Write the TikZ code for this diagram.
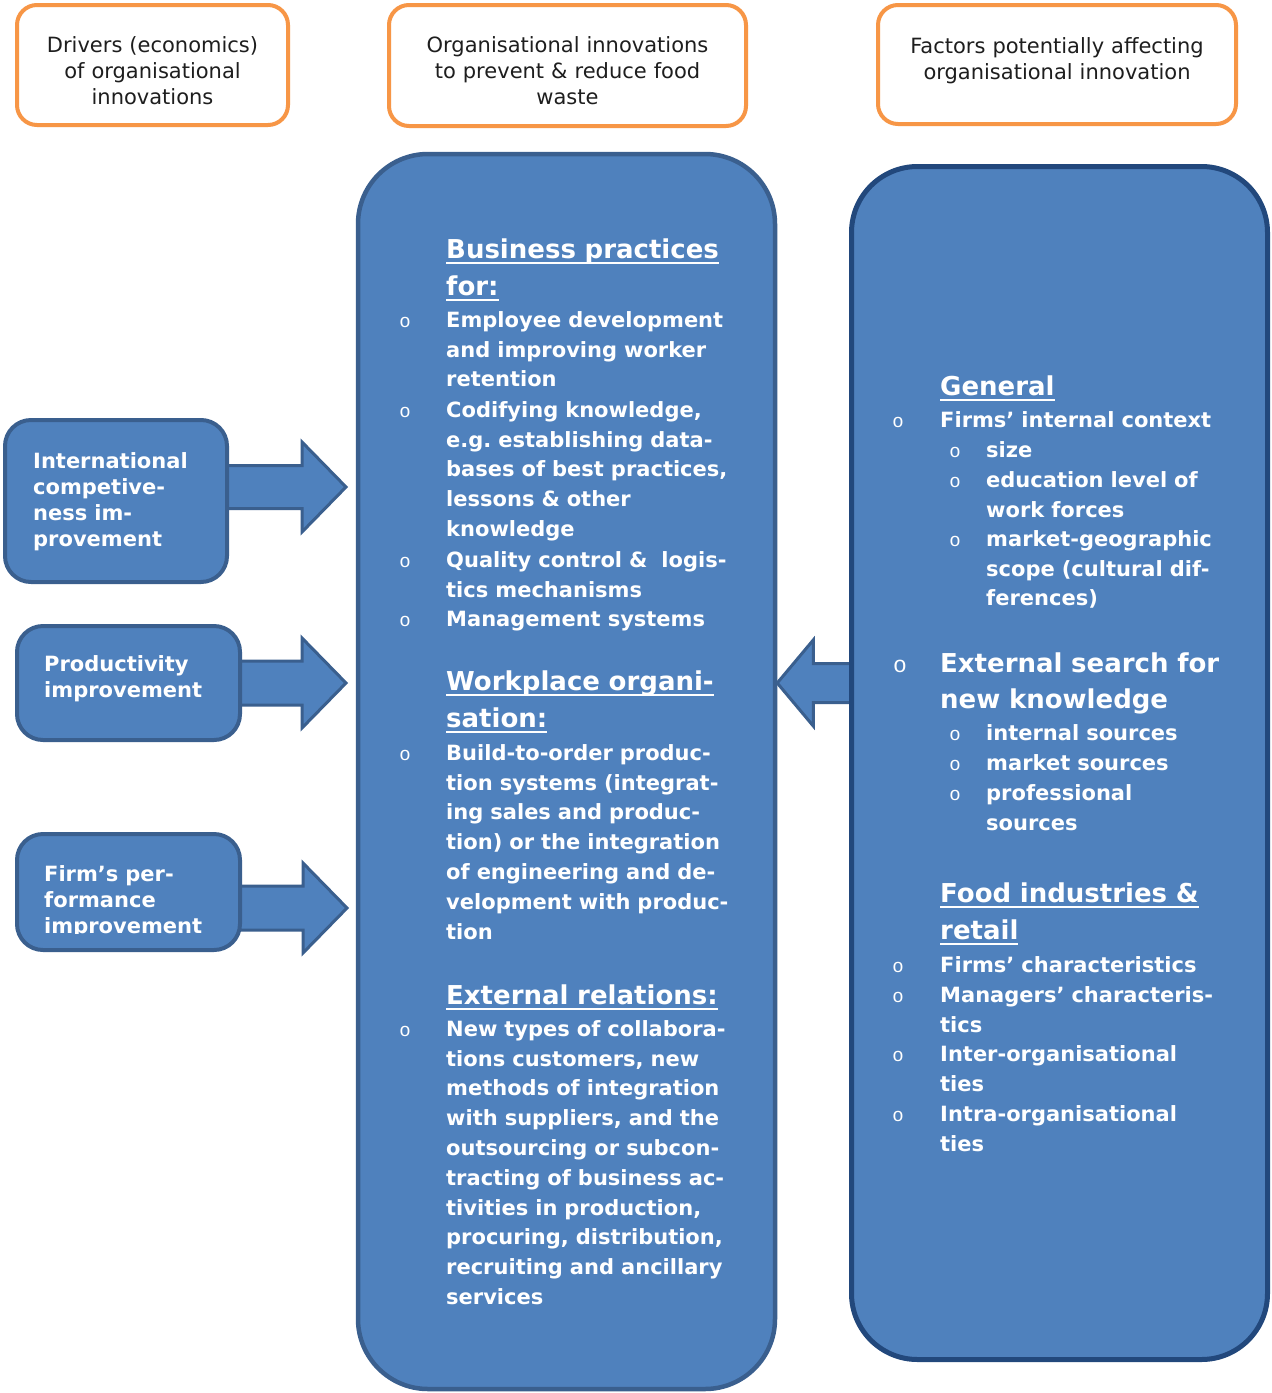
\documentclass[tikz,border=0pt]{standalone}
\usepackage{fontspec}
\setmainfont{DejaVu Sans}
\newfontfamily\bulletfont{Liberation Mono}
\usetikzlibrary{calc}

\definecolor{boxfill}{HTML}{4F81BD}
\definecolor{boxline}{HTML}{3A5F8E}
\definecolor{boxlinedark}{HTML}{22487C}
\definecolor{hdrline}{HTML}{F79646}
\definecolor{hdrtext}{HTML}{1E1E1E}

% type sizes (1pt = 1 unit of the drawing)
\newcommand\bodyf{\bfseries\fontsize{21}{29.8}\selectfont}
\newcommand\headf{\bfseries\fontsize{26}{37}\selectfont}
\newcommand\searchf{\bfseries\fontsize{26}{36}\selectfont}
\newcommand\drvf{\bfseries\fontsize{21}{26}\selectfont}
\newcommand\topf{\fontsize{21}{26}\selectfont}
\newcommand\bltf{\bulletfont\fontsize{19}{19}\selectfont}
\newcommand\bigbltf{\bulletfont\fontsize{23}{23}\selectfont}

% underline drawn through the descenders, as a word processor does
\newcommand\ulbar[1]{\leavevmode\setbox0=\hbox{#1}\rlap{\rule[-5.5pt]{\wd0}{2pt}}\box0}

\pgfdeclarelayer{back}
\pgfdeclarelayer{arrows}
\pgfsetlayers{back,arrows,main}

\begin{document}
\frenchspacing
\begin{tikzpicture}[x=1pt,y=-1pt,
  hdrbox/.style={draw=hdrline, line width=4pt, rounded corners=20pt, fill=white, inner sep=0pt},
  hdrtxt/.style={anchor=north, inner sep=0pt, text width=340pt, align=center, text=hdrtext, font=\topf},
  drvbox/.style={draw=boxline, fill=boxfill, line width=4pt, rounded corners=26pt, inner sep=0pt},
  drvtxt/.style={anchor=north west, inner sep=0pt, text width=200pt, align=left, text=white, font=\drvf},
  bigbox/.style={fill=boxfill, inner sep=0pt},
  barrow/.style={draw=boxline, fill=boxfill, line width=3pt, line join=miter},
  body/.style={anchor=north west, inner sep=0pt, text width=360pt, align=left, text=white, font=\bodyf},
  head/.style={body, font=\headf},
  blt/.style={anchor=base, inner sep=0pt, text=white, font=\bltf},
]
\begin{pgfonlayer}{back}
  \fill[white] (0,0) rectangle (1272,1393);
\end{pgfonlayer}
\useasboundingbox (0,0) rectangle (1272,1393);

% ---- column headers
\node[hdrbox, minimum width=271pt, minimum height=120pt] (h1) at (152.5,65) {};
\node[hdrbox, minimum width=357pt, minimum height=121pt] (h2) at (567.5,65.5) {};
\node[hdrbox, minimum width=358pt, minimum height=119pt] (h3) at (1057,64.5) {};
\node[hdrtxt] (h1t) at (152.5,33.8) {\strut Drivers (economics)\\of organisational\\innovations};
\node[hdrtxt] (h2t) at (567.5,33.8) {\strut Organisational innovations\\to prevent \& reduce food\\waste};
\node[hdrtxt] (h3t) at (1057,34.8) {\strut Factors potentially affecting\\organisational innovation};

% ---- main columns
\node[bigbox, draw=boxline, line width=4.5pt, rounded corners=70pt,
      minimum width=417pt, minimum height=1235pt] (mid) at (566.5,771.5) {};
\node[bigbox, draw=boxlinedark, line width=5pt, rounded corners=66pt,
      minimum width=416pt, minimum height=1193pt] (fac) at (1059.5,763) {};

% ---- drivers
\node[drvbox, minimum width=222pt, minimum height=162pt] (drv1) at (116,501) {};
\node[drvbox, minimum width=223pt, minimum height=114pt] (drv2) at (128.5,683) {};
\node[drvbox, minimum width=223pt, minimum height=116pt] (drv3) at (128.5,892) {};
\node[drvtxt] (d1t) at (33,449.8) {\strut International\\competive-\\ness im-\\provement};
\node[drvtxt] (d2t) at (44,652.8) {\strut Productivity\\improvement};
\begin{scope}
  \clip (17,834) rectangle (240,933);
  \node[drvtxt] (d3t) at (44,862.8) {\strut Firm’s per-\\formance\\improvement};
\end{scope}

% ---- block arrows
\coordinate (t1) at (346,487);
\coordinate (t2) at (346,683);
\coordinate (t3) at (347,908);
\coordinate (t4) at (mid.east |- drv2.east);
\begin{pgfonlayer}{arrows}
  \foreach \b/\t/\s in {drv1/t1/21.5, drv2/t2/22, drv3/t3/22} {
    \draw[barrow] ($(\b.east |- \t)+(-4,-\s)$) -- ($(\t)+(-44,-\s)$) -- ($(\t)+(-44,-45)$)
      -- (\t) -- ($(\t)+(-44,45)$) -- ($(\t)+(-44,\s)$) -- ($(\b.east |- \t)+(-4,\s)$);
  }
  \draw[barrow] ($(fac.west |- t4)+(4,-19.5)$) -- ($(t4)+(36,-19.5)$) -- ($(t4)+(36,-43)$)
    -- (t4) -- ($(t4)+(36,43)$) -- ($(t4)+(36,19.5)$) -- ($(fac.west |- t4)+(4,19.5)$);
\end{pgfonlayer}

% ---- organisational innovations
\node[head] (bp) at (446,232.1) {\strut\ulbar{Business practices}\\\ulbar{for:}};
\node[body] (bp1) at (446,306.2) {\strut Employee development\\and improving worker\\retention};
\node[body] (bp2) at (446,396.2) {\strut Codifying knowledge,\\e.g. establishing data-\\bases of best practices,\\lessons \& other\\knowledge};
\node[body] (bp3) at (446,546.2) {\strut Quality control \&\ \ logis-\\tics mechanisms};
\node[body] (bp4) at (446,605.2) {\strut Management systems};
\node[head] (wo) at (446,664.1) {\strut\ulbar{Workplace organi-}\\\ulbar{sation:}};
\node[body] (wo1) at (446,739.2) {\strut Build-to-order produc-\\tion systems (integrat-\\ing sales and produc-\\tion) or the integration\\of engineering and de-\\velopment with produc-\\tion};
\node[head] (er) at (446,978.1) {\strut\ulbar{External relations:}};
\node[body] (er1) at (446,1015.2) {\strut New types of collabora-\\tions customers, new\\methods of integration\\with suppliers, and the\\outsourcing or subcon-\\tracting of business ac-\\tivities in production,\\procuring, distribution,\\recruiting and ancillary\\services};

% ---- factors
\node[head] (gen) at (940,369.1) {\strut\ulbar{General}};
\node[body] (gen1) at (940,406.2) {\strut Firms’ internal context};
\node[body] (gen1a) at (986,436.2) {\strut size};
\node[body] (gen1b) at (986,466.2) {\strut education level of\\work forces};
\node[body] (gen1c) at (986,525.2) {\strut market-geographic\\scope (cultural dif-\\ferences)};
\node[head, font=\searchf] (ext) at (940,646.8) {\strut External search for\\new knowledge};
\node[body] (ext1) at (986,719.2) {\strut internal sources};
\node[body] (ext2) at (986,749.2) {\strut market sources};
\node[body] (ext3) at (986,779.2) {\strut professional\\sources};
\node[head] (food) at (940,876.1) {\strut\ulbar{Food industries \&}\\\ulbar{retail}};
\node[body] (food1) at (940,951.2) {\strut Firms’ characteristics};
\node[body] (food2) at (940,981.2) {\strut Managers’ characteris-\\tics};
\node[body] (food3) at (940,1040.2) {\strut Inter-organisational\\ties};
\node[body] (food4) at (940,1100.2) {\strut Intra-organisational\\ties};

% ---- list bullets
\foreach \x/\y [count=\i] in {405/327, 405/417, 405/567, 405/626, 405/760, 405/1036,
    898/427, 898/972, 898/1002, 898/1061, 898/1121,
    955/457, 955/487, 955/546, 955/740, 955/770, 955/800}
  \node[blt] (bl\i) at (\x,\y) {o};
\node[blt, font=\bigbltf] (blx) at (900,672) {o};
\end{tikzpicture}
\end{document}
